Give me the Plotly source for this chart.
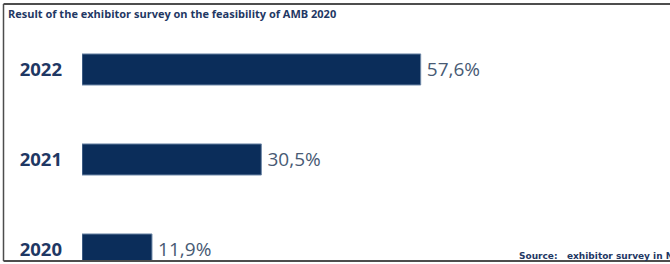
import plotly.graph_objects as go

# Data
title_text = "Result of the exhibitor survey on the feasibility of AMB 2020"
source_text = "Source:   exhibitor survey in November 2020"
years = ["2022", "2021", "2020"]
shares = [57.6, 30.5, 11.9]
value_labels = ["\u2009" + f"{v:.1f}".replace(".", ",") + "%" for v in shares]

W, H = 670, 264
bar_color = "#0b2d5a"
navy = "#1f3864"
label_gray = "#485a74"

fig = go.Figure(
    go.Bar(
        y=years,
        x=shares,
        orientation="h",
        width=0.345,
        marker=dict(color=bar_color, line=dict(color="#6f88a8", width=1)),
        text=value_labels,
        textposition="outside",
        textfont=dict(family="Open Sans", size=19, color=label_gray),
        cliponaxis=True,
        hoverinfo="skip",
    )
)

fig.update_layout(
    width=W,
    height=H,
    margin=dict(l=0, r=0, t=0, b=0),
    paper_bgcolor="white",
    plot_bgcolor="white",
    showlegend=False,
    xaxis=dict(
        domain=[82 / W, 1],
        range=[0, 100],
        visible=False,
        fixedrange=True,
    ),
    yaxis=dict(
        domain=[3 / H, 1],
        type="category",
        categoryorder="array",
        categoryarray=years,
        range=[2.128, -0.772],
        showgrid=False,
        zeroline=False,
        showline=False,
        ticks="",
        ticklabelstandoff=19,
        tickfont=dict(family="Open Sans", size=18.5, color=navy, weight="bold"),
        automargin=False,
        fixedrange=True,
    ),
    shapes=[
        dict(type="line", xref="paper", yref="paper", x0=3.5 / W, x1=1, y0=1 - 4 / H, y1=1 - 4 / H,
             line=dict(color="#4d4d4d", width=2)),
        dict(type="line", xref="paper", yref="paper", x0=3.5 / W, x1=3.5 / W, y0=1 - 4 / H, y1=3 / H,
             line=dict(color="#4d4d4d", width=1.5)),
        dict(type="line", xref="paper", yref="paper", x0=3.5 / W, x1=1, y0=3 / H, y1=3 / H,
             line=dict(color="#4d4d4d", width=2)),
    ],
    annotations=[
        dict(text=title_text, xref="paper", yref="paper", x=6 / W, y=1 - 14 / H,
             xanchor="left", yanchor="middle", showarrow=False,
             font=dict(family="Open Sans", size=11, color=navy, weight="bold")),
        dict(text=source_text, xref="paper", yref="paper", x=517 / W, y=1 - 256 / H,
             xanchor="left", yanchor="middle", showarrow=False,
             font=dict(family="DejaVu Sans", size=9, color=navy, weight="bold")),
    ],
)

fig.write_html(
    "out.html",
    config={"displayModeBar": False},
    post_script="document.body.style.margin='0';document.body.style.overflow='hidden';",
)
